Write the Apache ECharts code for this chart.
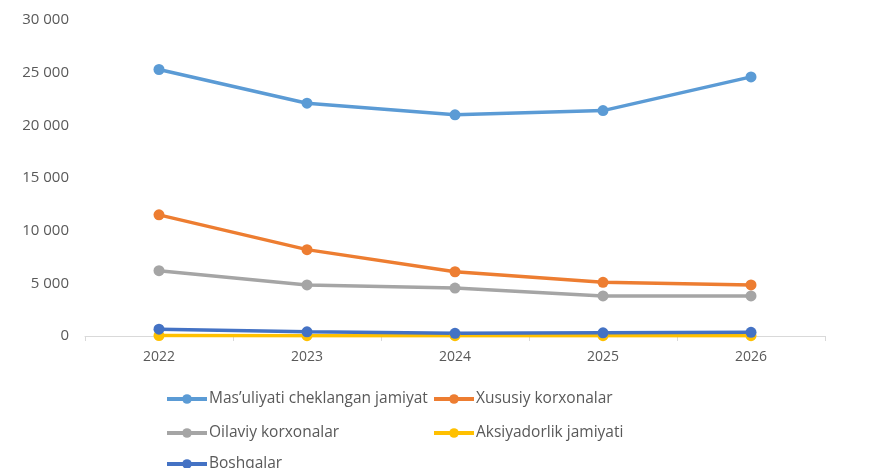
<!DOCTYPE html>
<html>
<head>
<meta charset="utf-8">
<script src="https://cdn.jsdelivr.net/npm/echarts@6/dist/echarts.min.js"></script>
<style>
html, body { margin: 0; padding: 0; background: #fff; }
#main { width: 891px; height: 468px; }
</style>
</head>
<body>
<div id="main"></div>
<script>
// yillar va seriyalar
var years = ['2022', '2023', '2024', '2025', '2026'];
var seriesNames = ['Mas’uliyati cheklangan jamiyat', 'Xususiy korxonalar', 'Oilaviy korxonalar', 'Aksiyadorlik jamiyati', 'Boshqalar'];
var mchj = [25300, 22100, 21000, 21400, 24600];
var xususiy = [11500, 8200, 6100, 5100, 4850];
var oilaviy = [6200, 4850, 4550, 3800, 3800];
var aksiyadorlik = [40, 30, 30, 30, 30];
var boshqalar = [650, 400, 250, 300, 350];
var colors = ['#5B9BD5', '#ED7D31', '#A5A5A5', '#FFC000', '#4472C4'];

var myChart = echarts.init(document.getElementById('main'));

var allData = [mchj, xususiy, oilaviy, aksiyadorlik, boshqalar];
var textColor = '#595959';
var font = 'Open Sans';

// legend positions (left, top) for each item
var legendPos = [[165, 391], [432, 391], [165, 425], [432, 425], [165, 456]];
var legends = seriesNames.map(function (name, i) {
    return {
        data: [name],
        left: legendPos[i][0],
        top: legendPos[i][1],
        itemWidth: 40,
        itemHeight: 12,
        itemGap: 0,
        padding: 0,
        lineStyle: { width: 4 },
        textStyle: { color: textColor, fontSize: 15.5, fontFamily: font, padding: [0, 0, 0, -3] }
    };
});

var series = allData.map(function (d, i) {
    return {
        name: seriesNames[i],
        type: 'line',
        data: d,
        symbol: 'circle',
        symbolSize: 11,
        color: colors[i],
        lineStyle: { width: 3.5, color: colors[i] },
        itemStyle: { color: colors[i] }
    };
});

var option = {
    animation: false,
    color: colors,
    grid: { left: 85, right: 66, top: 20, bottom: 132 },
    legend: legends,
    xAxis: {
        type: 'category',
        data: years,
        boundaryGap: true,
        axisLine: { lineStyle: { color: '#D9D9D9', width: 1 } },
        axisTick: { show: true, length: 5, lineStyle: { color: '#D9D9D9' } },
        axisLabel: { color: textColor, fontSize: 14, fontFamily: font, margin: 14 }
    },
    yAxis: {
        type: 'value',
        min: 0,
        max: 30000,
        interval: 5000,
        axisLine: { show: false },
        axisTick: { show: false },
        splitLine: { show: false },
        axisLabel: {
            color: textColor,
            fontSize: 15,
            fontFamily: font,
            margin: 16,
            formatter: function (v) {
                return String(v).replace(/\B(?=(\d{3})+(?!\d))/g, ' ');
            }
        }
    },
    series: series
};

myChart.setOption(option);
</script>
</body>
</html>
